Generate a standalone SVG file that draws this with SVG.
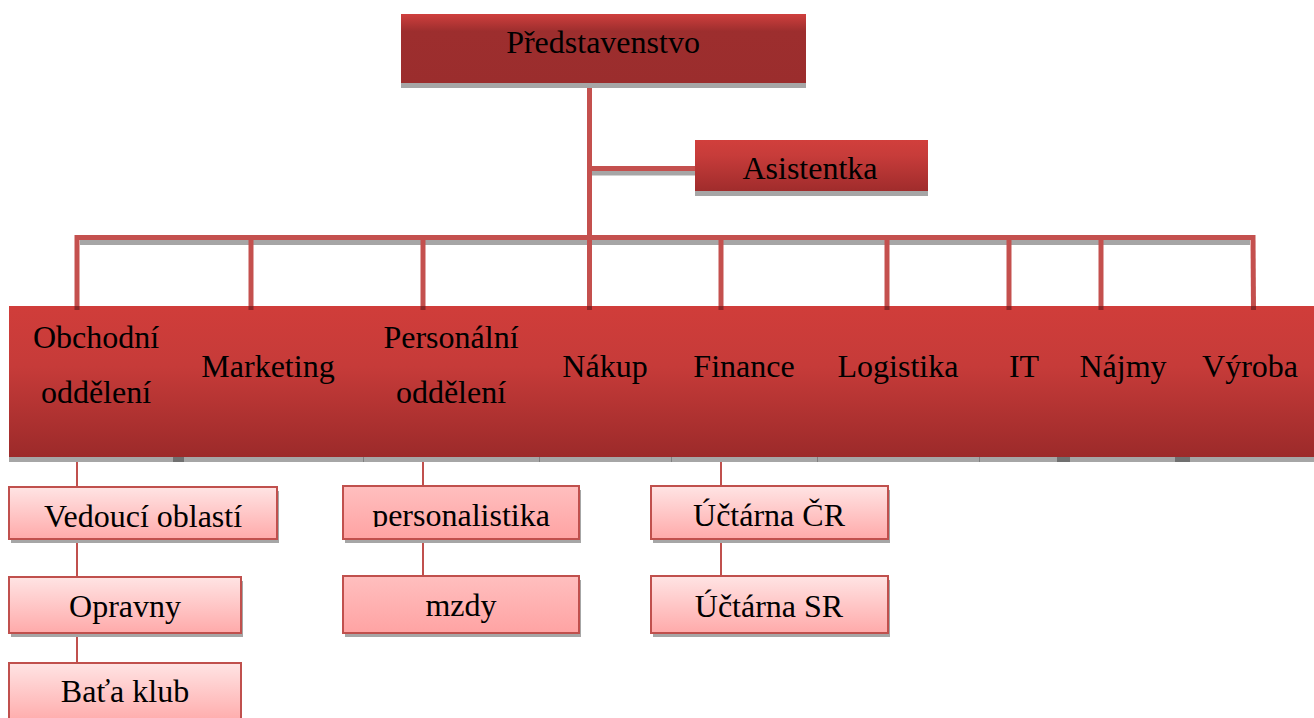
<svg xmlns="http://www.w3.org/2000/svg" width="1314" height="718" viewBox="0 0 1314 718">
<style>
text{font-family:"Liberation Serif","Times New Roman",serif;font-size:32px;fill:#000;text-anchor:middle}
.shadow{fill:#a6a6a6}
.band{fill:url(#bandGrad)}
.light{fill:url(#lightGrad);stroke:#c0504d;stroke-width:2}
.pink{fill:url(#pinkGrad);stroke:#c0504d;stroke-width:2}
.conn{stroke:#c4504e;stroke-width:5;fill:none}
.connsh{stroke:#a6a6a6;stroke-width:5;fill:none}
.thin{stroke:#c0504d;stroke-width:2;fill:none}
.cap{fill:#8a2626}
</style>
<defs>
<linearGradient id="topGrad" x1="0" y1="0" x2="0" y2="1">
<stop offset="0" stop-color="#cf3f3d"/><stop offset="0.25" stop-color="#9d2e2e"/><stop offset="1" stop-color="#9b2d2d"/>
</linearGradient>
<linearGradient id="asGrad" x1="0" y1="0" x2="0" y2="1">
<stop offset="0" stop-color="#d13f3c"/><stop offset="0.3" stop-color="#c73c3a"/><stop offset="1" stop-color="#a02c2c"/>
</linearGradient>
<linearGradient id="bandGrad" x1="0" y1="0" x2="0" y2="1">
<stop offset="0" stop-color="#d03d3a"/><stop offset="0.4" stop-color="#c63b39"/><stop offset="1" stop-color="#9c2a2a"/>
</linearGradient>
<linearGradient id="lightGrad" x1="0" y1="0" x2="0" y2="1">
<stop offset="0" stop-color="#ffe4e4"/><stop offset="1" stop-color="#ffaaaa"/>
</linearGradient>
<linearGradient id="pinkGrad" x1="0" y1="0" x2="0" y2="1">
<stop offset="0" stop-color="#ffbfbf"/><stop offset="1" stop-color="#ffa3a3"/>
</linearGradient>
<clipPath id="clipPers"><rect x="343" y="486" width="236" height="41"/></clipPath>
</defs>

<g id="connectors">
<line class="connsh" x1="592" y1="173" x2="695" y2="173"/>
<line class="conn" x1="589.5" y1="168.5" x2="695" y2="168.5"/>
<line class="connsh" x1="80" y1="242.5" x2="1250" y2="242.5"/>
<line class="conn" x1="77" y1="237.5" x2="1253" y2="237.5"/>
<line class="conn" x1="589.5" y1="83" x2="589.5" y2="310"/>
<line class="conn" x1="77" y1="235" x2="77" y2="310"/>
<line class="conn" x1="251" y1="237" x2="251" y2="310"/>
<line class="conn" x1="423" y1="237" x2="423" y2="310"/>
<line class="conn" x1="721" y1="237" x2="721" y2="310"/>
<line class="conn" x1="887" y1="237" x2="887" y2="310"/>
<line class="conn" x1="1009" y1="237" x2="1009" y2="310"/>
<line class="conn" x1="1101" y1="237" x2="1101" y2="310"/>
<line class="conn" x1="1253" y1="235" x2="1253.5" y2="310"/>
<line class="thin" x1="77" y1="457" x2="77" y2="487"/>
<line class="thin" x1="77" y1="539" x2="77" y2="577"/>
<line class="thin" x1="77" y1="633" x2="77" y2="663"/>
<line class="thin" x1="423" y1="457" x2="423" y2="486"/>
<line class="thin" x1="423" y1="539" x2="423" y2="576"/>
<line class="thin" x1="721" y1="457" x2="721" y2="486"/>
<line class="thin" x1="721" y1="539" x2="721" y2="576"/>
</g>

<g id="n-predstavenstvo">
<rect class="shadow" x="401" y="83" width="405" height="5"/>
<rect x="401" y="14" width="405" height="69" fill="url(#topGrad)"/>
<text x="603" y="53">Představenstvo</text>
</g>

<g id="n-asistentka">
<rect class="shadow" x="695" y="191" width="233" height="5"/>
<rect x="695" y="140" width="233" height="51" fill="url(#asGrad)"/>
<text x="810" y="179">Asistentka</text>
</g>

<g id="band-shadow">
<rect class="shadow" x="9" y="457" width="1305" height="5"/>
<rect fill="#707070" x="173" y="457" width="11" height="5"/>
<rect fill="#707070" x="1057" y="457" width="13" height="5"/>
<rect fill="#707070" x="1175" y="457" width="15" height="5"/>
<rect fill="#808080" x="363" y="457" width="1" height="5"/>
<rect fill="#808080" x="539" y="457" width="1" height="5"/>
<rect fill="#808080" x="671" y="457" width="1" height="5"/>
<rect fill="#808080" x="817" y="457" width="1" height="5"/>
<rect fill="#808080" x="979" y="457" width="1" height="5"/>
</g>

<g id="n-obchodni">
<rect class="band" x="9" y="306" width="175" height="151"/>
<text x="96" y="348">Obchodní</text>
<text x="96" y="403">oddělení</text>
</g>
<g id="n-marketing">
<rect class="band" x="173" y="306" width="190" height="151"/>
<text x="268" y="377">Marketing</text>
</g>
<g id="n-personalni">
<rect class="band" x="363" y="306" width="176" height="151"/>
<text x="451" y="348">Personální</text>
<text x="451" y="403">oddělení</text>
</g>
<g id="n-nakup">
<rect class="band" x="539" y="306" width="132" height="151"/>
<text x="605" y="377">Nákup</text>
</g>
<g id="n-finance">
<rect class="band" x="671" y="306" width="146" height="151"/>
<text x="744" y="377">Finance</text>
</g>
<g id="n-logistika">
<rect class="band" x="817" y="306" width="162" height="151"/>
<text x="898" y="377">Logistika</text>
</g>
<g id="n-it">
<rect class="band" x="979" y="306" width="91" height="151"/>
<text x="1024" y="377">IT</text>
</g>
<g id="n-najmy">
<rect class="band" x="1057" y="306" width="133" height="151"/>
<text x="1123" y="377">Nájmy</text>
</g>
<g id="n-vyroba">
<rect class="band" x="1175" y="306" width="150" height="151"/>
<text x="1250" y="377">Výroba</text>
</g>

<g id="caps">
<rect class="cap" x="74.5" y="306" width="5" height="4"/>
<rect class="cap" x="248.5" y="306" width="5" height="4"/>
<rect class="cap" x="420.5" y="306" width="5" height="4"/>
<rect class="cap" x="587" y="306" width="5" height="4"/>
<rect class="cap" x="718.5" y="306" width="5" height="4"/>
<rect class="cap" x="884.5" y="306" width="5" height="4"/>
<rect class="cap" x="1006.5" y="306" width="5" height="4"/>
<rect class="cap" x="1098.5" y="306" width="5" height="4"/>
<rect class="cap" x="1251" y="306" width="5" height="4"/>
</g>

<g id="n-vedouci">
<rect class="shadow" x="11" y="491" width="268" height="52"/>
<rect class="light" x="9" y="487" width="268" height="52"/>
<text x="143" y="527">Vedoucí oblastí</text>
</g>
<g id="n-opravny">
<rect class="shadow" x="11" y="581" width="232" height="56"/>
<rect class="light" x="9" y="577" width="232" height="56"/>
<text x="125" y="617">Opravny</text>
</g>
<g id="n-bata">
<rect class="light" x="9" y="663" width="232" height="60"/>
<text x="125" y="702">Baťa klub</text>
</g>
<g id="n-personalistika">
<rect class="shadow" x="345" y="490" width="236" height="53"/>
<rect class="pink" x="343" y="486" width="236" height="53"/>
<text x="461" y="526" clip-path="url(#clipPers)">personalistika</text>
</g>
<g id="n-mzdy">
<rect class="shadow" x="345" y="580" width="236" height="57"/>
<rect class="pink" x="343" y="576" width="236" height="57"/>
<text x="461" y="616">mzdy</text>
</g>
<g id="n-uctarna-cr">
<rect class="shadow" x="653" y="490" width="237" height="53"/>
<rect class="light" x="651" y="486" width="237" height="53"/>
<text x="769" y="526">Účtárna ČR</text>
</g>
<g id="n-uctarna-sr">
<rect class="shadow" x="653" y="580" width="237" height="57"/>
<rect class="light" x="651" y="576" width="237" height="57"/>
<text x="769" y="617">Účtárna SR</text>
</g>
</svg>
